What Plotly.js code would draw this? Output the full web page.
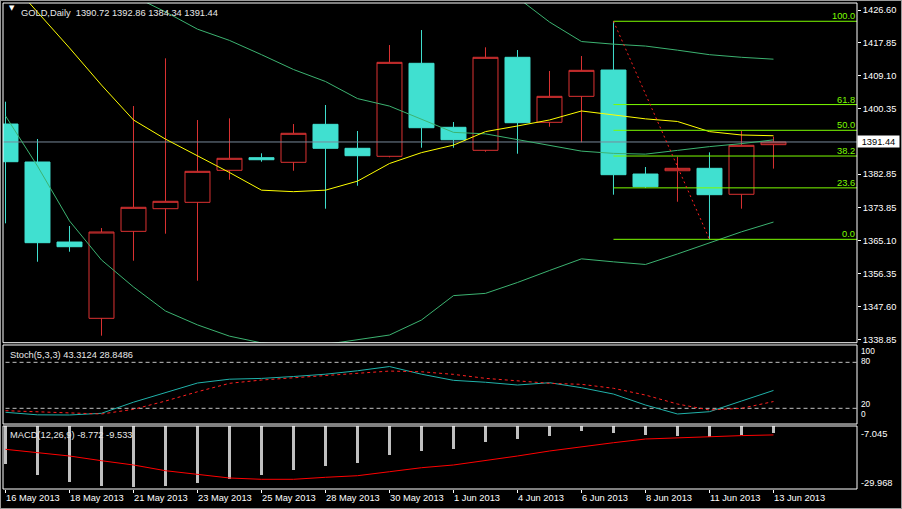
<!DOCTYPE html>
<html><head><meta charset="utf-8">
<script src="https://cdn.plot.ly/plotly-3.0.1.min.js"></script>
<style>
html,body{margin:0;padding:0;background:#000;overflow:hidden;}
#wrap{position:relative;width:902px;height:509px;}
#chart{width:902px;height:509px;}
#frame{position:absolute;left:0;top:0;width:902px;height:509px;box-sizing:border-box;border:1px solid #9a9a9a;pointer-events:none;}
</style></head><body>
<div id="wrap"><div id="chart"></div><div id="frame"></div></div>
<script>
// ---------- data ----------
const barDates = ['16 May 2013','17 May 2013','18 May 2013','20 May 2013','21 May 2013','22 May 2013','23 May 2013','24 May 2013','25 May 2013','27 May 2013','28 May 2013','29 May 2013','30 May 2013','31 May 2013','1 Jun 2013','3 Jun 2013','4 Jun 2013','5 Jun 2013','6 Jun 2013','7 Jun 2013','8 Jun 2013','10 Jun 2013','11 Jun 2013','12 Jun 2013','13 Jun 2013'];
const openP  = [1396.22,1386.10,1364.78,1344.45,1367.63,1373.66,1375.36,1383.89,1387.25,1386.02,1396.14,1389.75,1387.62,1412.40,1395.35,1389.22,1414.00,1396.68,1403.60,1410.61,1382.90,1383.78,1384.42,1377.50,1390.72];
const highP  = [1402.17,1392.23,1369.05,1368.51,1401.02,1413.73,1397.29,1397.74,1388.42,1396.22,1401.29,1394.36,1417.27,1421.27,1396.76,1416.66,1415.94,1410.35,1414.34,1423.60,1384.77,1387.51,1388.68,1394.36,1392.86];
const lowP   = [1369.76,1359.53,1362.20,1339.82,1359.80,1367.00,1354.47,1381.38,1386.18,1383.78,1373.66,1379.78,1387.35,1389.91,1389.91,1388.84,1388.31,1395.50,1391.35,1377.39,1379.17,1375.52,1365.50,1373.66,1384.34];
const closeP = [1386.18,1364.60,1363.53,1367.45,1374.03,1375.63,1383.62,1387.09,1386.71,1393.75,1389.75,1387.78,1412.66,1395.24,1392.04,1414.00,1396.57,1403.60,1410.53,1382.72,1379.52,1384.42,1377.39,1390.55,1391.44];

const maYellow = [1435.6,1426.0,1416.5,1406.6,1397.3,1392.2,1387.8,1383.3,1378.6,1378.2,1378.6,1381.0,1385.7,1388.6,1390.6,1394.2,1395.7,1397.3,1399.7,1398.6,1397.6,1396.9,1394.2,1393.3,1393.1];
const bbUpper  = [1499.6,1503.4,1508.4,1509.2,1507.8,1505.8,1500.3,1497.3,1491.5,1484.3,1477.6,1467.2,1462.0,1450.8,1437.5,1436.1,1429.9,1423.4,1418.2,1417.5,1417.0,1415.9,1414.7,1414.0,1413.5];
const bbMiddle = [1449.0,1444.2,1439.4,1434.6,1430.3,1426.1,1421.5,1418.5,1414.7,1410.75,1407.55,1403.0,1401.0,1397.4,1394.0,1393.6,1392.0,1390.4,1389.0,1388.4,1388.2,1389.2,1390.2,1391.0,1392.0];
const bbLower  = [1398.4,1385.0,1370.4,1360.0,1352.8,1346.4,1342.7,1339.7,1337.9,1337.2,1337.5,1338.8,1340.0,1344.0,1350.5,1351.1,1354.0,1357.2,1360.3,1359.5,1358.8,1361.6,1364.5,1367.5,1370.1];

const stochMain   = [14.8,11.5,11.3,13.5,28,41,53,58,59,61.5,64.5,69,74.5,64.5,56.5,54,50.4,53.4,46.9,38.6,24.3,12.6,15.6,29.5,43.3124];
const stochSignal = [16.9,15.6,14.3,12.6,18.7,29.5,41.6,52.6,56.9,59.9,62.5,65.6,68.6,67.7,64.3,59.1,56,52.6,51.3,46.1,37.3,25.6,17.8,20,28.8486];
const stochLevels = [80,20];

const macdMain   = [-21.13,-25.35,-28.12,-29.70,-29.97,-29.70,-28.39,-26.81,-25.35,-23.38,-21.80,-20.50,-17.46,-15.88,-15.09,-12.33,-11.14,-9.84,-7.98,-8.77,-9.56,-9.84,-10.35,-9.56,-8.772];
const macdSignal = [-15.21,-16.39,-17.85,-19.71,-21.4,-23.66,-25.0,-26.54,-27.05,-27.05,-26.26,-25.63,-24.05,-22.47,-21.4,-19.71,-17.85,-15.88,-14.18,-12.6,-11.14,-10.63,-10.23,-9.8,-9.533];

const priceTicks = [1426.60,1417.85,1409.10,1400.35,1382.85,1373.85,1365.10,1356.35,1347.60,1338.85];
const bidPrice = 1391.44;

const fibHigh = 1423.60, fibLow = 1365.50, fibStartIdx = 19, fibEndIdx = 22;
const fibRatios = [0, 23.6, 38.2, 50.0, 61.8, 100.0];

const headerText = 'GOLD,Daily\u00a0\u00a01390.72 1392.86 1384.34 1391.44';
const stochText = 'Stoch(5,3,3) 43.3124 28.8486';
const macdText = 'MACD(12,26,9) -8.772 -9.533';
const stochAxisLabels = ['100','80','20','0'];
const macdAxisLabels = ['-7.045','-29.968'];

// ---------- build ----------
const idx = barDates.map((d,i)=>i);
const tickPos = idx.filter(i=>i%2===0);
const tickTxt = tickPos.map(i=>barDates[i]);
const xRange = [-0.078, 26.61];
const FONT = 'Liberation Sans, Arial, sans-serif';
const FS = 9.3;
const RED = '#dc3232', TURQ = '#40E0D0', LIME = '#7CFC00', WHITE = '#ffffff';

const fibVals = fibRatios.map(r => fibLow + (fibHigh - fibLow) * r / 100);
const fibX = [], fibY = [];
fibVals.forEach(v => { fibX.push(fibStartIdx, xRange[1], null); fibY.push(v, v, null); });

const traces = [
  {type:'scatter', mode:'lines', x:xRange, y:[bidPrice,bidPrice], line:{color:'#778899',width:1}, hoverinfo:'skip'},
  {type:'candlestick', x:idx, open:openP, high:highP, low:lowP, close:closeP, whiskerwidth:0,
   increasing:{line:{color:RED,width:1}, fillcolor:'#000000'},
   decreasing:{line:{color:TURQ,width:1}, fillcolor:TURQ}, hoverinfo:'skip'},
  {type:'scatter', mode:'lines', x:idx, y:bbUpper, line:{color:'#3CB371',width:1}, hoverinfo:'skip'},
  {type:'scatter', mode:'lines', x:idx, y:bbMiddle, line:{color:'#3CB371',width:1}, hoverinfo:'skip'},
  {type:'scatter', mode:'lines', x:idx, y:bbLower, line:{color:'#3CB371',width:1}, hoverinfo:'skip'},
  {type:'scatter', mode:'lines', x:idx, y:maYellow, line:{color:'#FFFF00',width:1}, hoverinfo:'skip'},
  {type:'scatter', mode:'lines', x:fibX, y:fibY, line:{color:LIME,width:1}, connectgaps:false, hoverinfo:'skip'},
  {type:'scatter', mode:'lines', x:[fibStartIdx, fibEndIdx], y:[fibHigh, fibLow], line:{color:'#ff2020',width:1,dash:'2px,3px'}, hoverinfo:'skip'},
  // stochastic
  {type:'scatter', mode:'lines', x:idx, y:stochMain, yaxis:'y2', line:{color:'#20B2AA',width:1}, hoverinfo:'skip'},
  {type:'scatter', mode:'lines', x:idx, y:stochSignal, yaxis:'y2', line:{color:'#ff2020',width:1,dash:'3px,3px'}, hoverinfo:'skip'},
  // MACD
  {type:'bar', x:idx, y:macdMain, yaxis:'y3', width:0.094, marker:{color:'#c0c0c0',line:{width:0}}, hoverinfo:'skip'},
  {type:'scatter', mode:'lines', x:idx, y:macdSignal, yaxis:'y3', line:{color:'#ff0000',width:1}, hoverinfo:'skip'}
];

const shapes = [];
['y','y2','y3'].forEach(ax => shapes.push({type:'rect', xref:'paper', yref:ax+' domain', x0:0, x1:1, y0:0, y1:1, line:{color:WHITE,width:1}, fillcolor:'rgba(0,0,0,0)', layer:'above'}));
stochLevels.forEach(l => shapes.push({type:'line', xref:'paper', yref:'y2', x0:0.003, x1:1, y0:l, y1:l, line:{color:'#c0c0c0',width:1,dash:'4px,3px'}, layer:'below'}));

const txtFont = {family:FONT, size:FS, color:'#e8e8e8'};
const annotations = [
  {xref:'paper', yref:'paper', x:0, xshift:4, y:1, yshift:-5, xanchor:'left', yanchor:'middle', text:'\u25BC', showarrow:false, font:{family:'DejaVu Sans', size:7, color:WHITE}},
  {xref:'paper', yref:'paper', x:0, xshift:16, y:1, yshift:-10, xanchor:'left', yanchor:'middle', text:headerText, showarrow:false, font:txtFont},
  {xref:'paper', yref:'y2 domain', x:0, xshift:5, y:1, yshift:-10, xanchor:'left', yanchor:'middle', text:stochText, showarrow:false, font:txtFont},
  {xref:'paper', yref:'y3 domain', x:0, xshift:5, y:1, yshift:-9, xanchor:'left', yanchor:'middle', text:macdText, showarrow:false, font:txtFont},
  {xref:'paper', yref:'y', x:1, y:bidPrice, xanchor:'left', yanchor:'middle', text:bidPrice.toFixed(2), showarrow:false, bgcolor:WHITE, borderpad:0, width:41, height:11, align:'center', font:{family:FONT,size:FS,color:'#000'}}
];
fibVals.forEach((v,i) => annotations.push({xref:'paper', yref:'y', x:1, xshift:-1, y:v, yshift:-1, xanchor:'right', yanchor:'bottom', text:fibRatios[i].toFixed(1), showarrow:false, borderpad:0, font:{family:FONT,size:FS,color:LIME}}));
const stochShifts = [-4, 1, 4.3, 9.2];
stochAxisLabels.forEach((t,i) => annotations.push({xref:'paper', yref:'y2', x:1, xshift:3, y:Number(t), yshift:stochShifts[i], xanchor:'left', yanchor:'middle', text:t, showarrow:false, borderpad:0, font:{family:FONT,size:8.3,color:WHITE}}));
const macdShifts = [-5.4, 4];
macdAxisLabels.forEach((t,i) => annotations.push({xref:'paper', yref:'y3', x:1, xshift:3, y:Number(t), yshift:macdShifts[i], xanchor:'left', yanchor:'middle', text:t, showarrow:false, borderpad:0, font:{family:FONT,size:FS,color:WHITE}}));

const tickFont = {family:FONT, size:FS, color:WHITE};
const layout = {
  width:902, height:509,
  paper_bgcolor:'#000000', plot_bgcolor:'#000000',
  margin:{l:3, r:45, t:3, b:20, pad:0},
  showlegend:false,
  boxgap:0.22, boxgroupgap:0,
  bargap:0,
  xaxis:{domain:[0,1], anchor:'y3', range:xRange, rangeslider:{visible:false},
    tickmode:'array', tickvals:tickPos, ticktext:tickTxt, ticks:'outside', ticklen:3, tickwidth:1, tickcolor:WHITE,
    ticklabelposition:'outside right', showline:false, showgrid:false, zeroline:false, tickfont:tickFont, fixedrange:true},
  yaxis:{domain:[0.3010,1], anchor:'x', side:'right', range:[1337.95,1428.47],
    tickmode:'array', tickvals:priceTicks, ticktext:priceTicks.map(v=>v.toFixed(2)),
    ticks:'outside', ticklen:3, tickwidth:1, tickcolor:WHITE, showline:false, showgrid:false, zeroline:false, tickfont:tickFont, fixedrange:true},
  yaxis2:{domain:[0.1337,0.2963], anchor:'x', side:'right', range:[-0.48,102.6], showticklabels:false, ticks:'', showline:false, showgrid:false, zeroline:false, fixedrange:true},
  yaxis3:{domain:[0,0.1296], anchor:'x', side:'right', range:[-30.88,-6.01], showticklabels:false, ticks:'', showline:false, showgrid:false, zeroline:false, fixedrange:true},
  shapes:shapes,
  annotations:annotations
};
Plotly.newPlot('chart', traces, layout, {staticPlot:true, displayModeBar:false});
</script>
</body></html>
